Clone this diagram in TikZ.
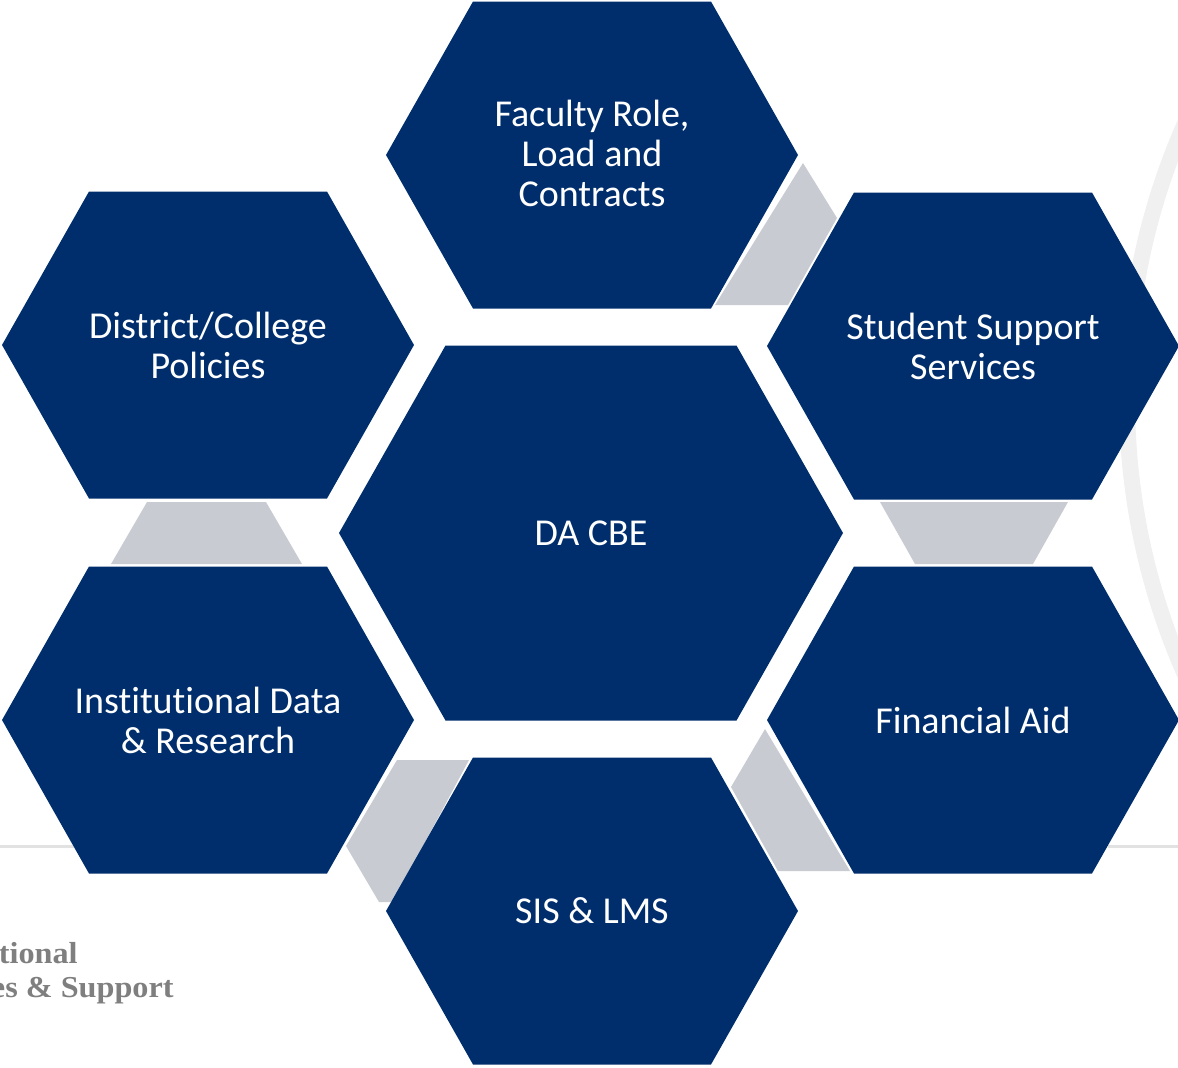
\documentclass[tikz,border=0pt]{standalone}
\usepackage{fontspec}
\setmainfont{Carlito}[Ligatures=NoCommon]
\newfontfamily\brandfont{Liberation Serif}[FakeStretch=1.06]
\usepackage{xcolor}
\definecolor{cbeblue}{HTML}{002E6C}
\definecolor{linkgrey}{HTML}{C8CBD2}
\definecolor{ringgrey}{HTML}{EFF0EF}
\definecolor{rulegrey}{HTML}{E2E2E2}
\definecolor{brandgrey}{HTML}{7F7F7F}

\begin{document}
\begin{tikzpicture}[x=0.5pt, y=-0.5pt,
    hexfill/.style={fill=cbeblue},
    link/.style={fill=linkgrey},
    hexlabel/.style={text=white, align=center, inner sep=0pt,
        font={\fontsize{19}{20}\selectfont}},
    brand/.style={text=brandgrey, inner sep=0pt,
        font={\brandfont\bfseries\fontsize{15.2}{17}\selectfont}}]
    \clip (0,0) rectangle (1178,1067);

    % background ring and rule
    \draw[ringgrey, line width=8pt] (1809,399) circle (682);
    \draw[rulegrey, line width=1.5pt] (0,846) -- (74,846);
    \draw[rulegrey, line width=1.5pt] (1108,846) -- (1178,846);

    % hexagon centres
    \coordinate (cbe) at (591,533);
    \coordinate (fac) at (592,153);
    \coordinate (dis) at (208,345);
    \coordinate (stu) at (973,346);
    \coordinate (ins) at (208,720);
    \coordinate (fin) at (973,720);
    \coordinate (sis) at (592,911);

    % grey links between outer hexagons
    \fill[link] (803,163) -- (837,218) -- (788,305) -- (715,305) -- cycle;
    \fill[link] (147,502) -- (266,502) -- (302,564) -- (111,564) -- cycle;
    \fill[link] (880,502) -- (1068,502) -- (1033,564) -- (915,564) -- cycle;
    \fill[link] (397,760) -- (469,760) -- (393,902) -- (379,902) -- (346,846) -- cycle;
    \fill[link] (765,729) -- (850,871) -- (778,871) -- (731,787) -- cycle;

    % hexagons
    \fill[hexfill] (cbe) ++(-252,0) -- ++(106.5,-187.5) -- ++(291,0) -- ++(106.5,187.5) -- ++(-106.5,187.5) -- ++(-291,0) -- cycle;
    \fill[hexfill] (fac) ++(-206,2) -- ++(87,-153.5) -- ++(238,0) -- ++(87,153.5) -- ++(-87,153.5) -- ++(-238,0) -- cycle;
    \fill[hexfill] (dis) ++(-206,0) -- ++(87,-153.5) -- ++(238,0) -- ++(87,153.5) -- ++(-87,153.5) -- ++(-238,0) -- cycle;
    \fill[hexfill] (stu) ++(-206,0) -- ++(87,-153.5) -- ++(238,0) -- ++(87,153.5) -- ++(-87,153.5) -- ++(-238,0) -- cycle;
    \fill[hexfill] (ins) ++(-206,0) -- ++(87,-153.5) -- ++(238,0) -- ++(87,153.5) -- ++(-87,153.5) -- ++(-238,0) -- cycle;
    \fill[hexfill] (fin) ++(-206,0) -- ++(87,-153.5) -- ++(238,0) -- ++(87,153.5) -- ++(-87,153.5) -- ++(-238,0) -- cycle;
    \fill[hexfill] (sis) ++(-206,0) -- ++(87,-153.5) -- ++(238,0) -- ++(87,153.5) -- ++(-87,153.5) -- ++(-238,0) -- cycle;

    % labels
    \node[hexlabel] (cbeT) at (cbe) {DA CBE};
    \node[hexlabel] (facT) at (fac) {Faculty Role,\\Load and\\Contracts};
    \node[hexlabel] (disT) at (dis) {District/College\\Policies};
    \node[hexlabel] (stuT) at (stu) {Student Support\\Services};
    \node[hexlabel] (insT) at (ins) {Institutional Data\\\& Research};
    \node[hexlabel] (finT) at (fin) {Financial Aid};
    \node[hexlabel] (sisT) at (sis) {SIS \& LMS};

    \node[brand, anchor=base east] (brandA) at (78,963) {tional};
    \node[brand, anchor=base east] (brandB) at (174,997) {es \& Support};
\end{tikzpicture}
\end{document}
